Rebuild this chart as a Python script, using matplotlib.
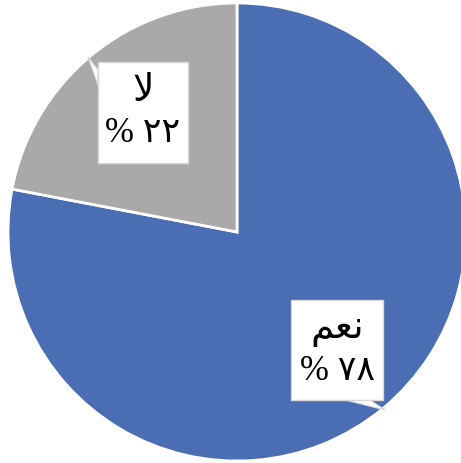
"""Yes/No pie chart with Arabic callout labels."""
import matplotlib
matplotlib.use("Agg")
import matplotlib.pyplot as plt
from matplotlib.patches import Rectangle, Polygon

# data
categories = ["نعم", "لا"]
values = [78, 22]
colors = ["#4a6db4", "#aaa8a8"]
# matplotlib has no Arabic shaping: presentation forms in visual (left-to-right) order
shaped_names = ["\uFEE2\uFECC\uFEE7", "\uFEFB"]
pct_labels = ["% \u0667\u0668", "% \u0662\u0662"]

W, H = 461, 463
FONT = ["Liberation Serif", "DejaVu Sans"]

fig = plt.figure(figsize=(W / 100, H / 100), dpi=100)
ax = fig.add_axes([0, 0, 1, 1])

ax.pie(values, colors=colors, startangle=90, counterclock=False,
       center=(237, 231), radius=229, frame=True,
       wedgeprops=dict(edgecolor="white", linewidth=2))
ax.set_xlim(0, W)
ax.set_ylim(0, H)
ax.set_aspect("equal")
ax.axis("off")

# callout boxes: (left, top, right, bottom) in pixel coords, plus tail polygon
boxes = [
    ((291, 300, 383, 400), [(345, 400), (385, 410), (370, 400)]),
    ((98, 62, 188, 163), [(98, 70), (88, 57), (98, 85)]),
]

for (name, pct), ((l, t, r, b), tail) in zip(zip(shaped_names, pct_labels), boxes):
    ax.add_patch(Polygon([(x, H - y) for x, y in tail], closed=True,
                         facecolor="white", edgecolor="#d8d8d8", lw=0.8, zorder=3))
    ax.add_patch(Rectangle((l, H - b), r - l, b - t, facecolor="white",
                           edgecolor="#d8d8d8", lw=1, zorder=4))
    cx = (l + r) / 2
    ax.text(cx, H - (t + 30), name, ha="center", va="center",
            fontsize=27, family=FONT, zorder=5)
    ax.text(cx, H - (t + 71), pct, ha="center", va="center",
            fontsize=25, family=FONT, zorder=5)

fig.savefig("out.png", dpi=100)
